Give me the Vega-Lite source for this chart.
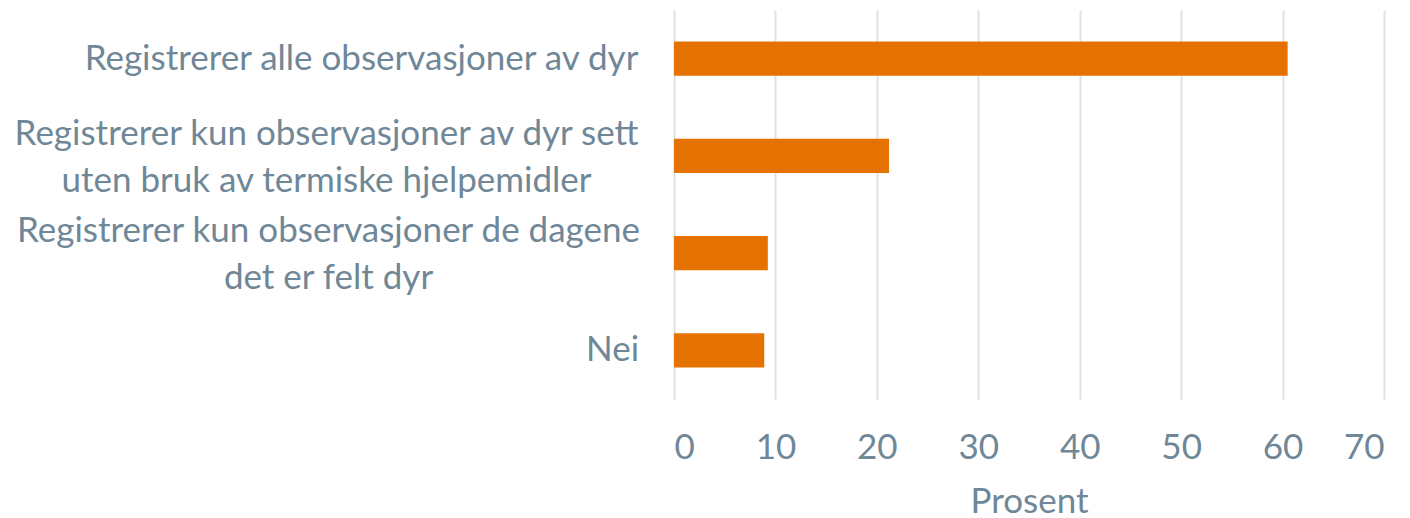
{
  "$schema": "https://vega.github.io/schema/vega-lite/v6.json",
  "width": 710,
  "height": 389,
  "autosize": {"type": "none"},
  "padding": {"left": 674, "top": 10, "right": 26, "bottom": 119},
  "background": "white",
  "config": {"view": {"stroke": null}, "font": "Lato"},
  "data": {
    "values": [
      {"kategori": "Registrerer alle observasjoner av dyr", "prosent": 60.5},
      {"kategori": "Registrerer kun observasjoner av dyr sett|uten bruk av termiske hjelpemidler", "prosent": 21.2},
      {"kategori": "Registrerer kun observasjoner de dagene|det er felt dyr", "prosent": 9.25},
      {"kategori": "Nei", "prosent": 8.9}
    ]
  },
  "mark": {"type": "bar", "color": "#E57200"},
  "encoding": {
    "y": {
      "field": "kategori",
      "type": "nominal",
      "sort": null,
      "scale": {"paddingInner": 0.65, "paddingOuter": 0.325},
      "axis": {
        "title": null,
        "domain": false,
        "ticks": false,
        "labelExpr": "split(datum.label, '|')",
        "labelFont": "Lato",
        "labelFontSize": 35,
        "labelColor": "#6F8797",
        "labelAlign": "center",
        "labelBaseline": "middle",
        "labelLineHeight": 47,
        "labelLimit": 800,
        "labelOffset": {
          "condition": {"test": "indexof(datum.value, '|') >= 0", "value": -22},
          "value": 0
        },
        "labelPadding": {
          "condition": [
            {"test": "datum.value == 'Nei'", "value": 62},
            {"test": "indexof(datum.value, 'dagene') >= 0", "value": 346},
            {"test": "indexof(datum.value, 'sett') >= 0", "value": 348}
          ],
          "value": 313
        }
      }
    },
    "x": {
      "field": "prosent",
      "type": "quantitative",
      "scale": {"domain": [0, 70]},
      "axis": {
        "title": "Prosent",
        "values": [0, 10, 20, 30, 40, 50, 60, 70],
        "domain": false,
        "ticks": false,
        "grid": true,
        "gridColor": "#DDE2E8",
        "gridWidth": 2,
        "labelFont": "Lato",
        "labelFontSize": 35,
        "labelColor": "#6F8797",
        "labelPadding": 31,
        "titleFont": "Lato",
        "titleFontSize": 35,
        "titleFontWeight": "normal",
        "titleColor": "#6F8797",
        "titlePadding": 19
      }
    }
  }
}
